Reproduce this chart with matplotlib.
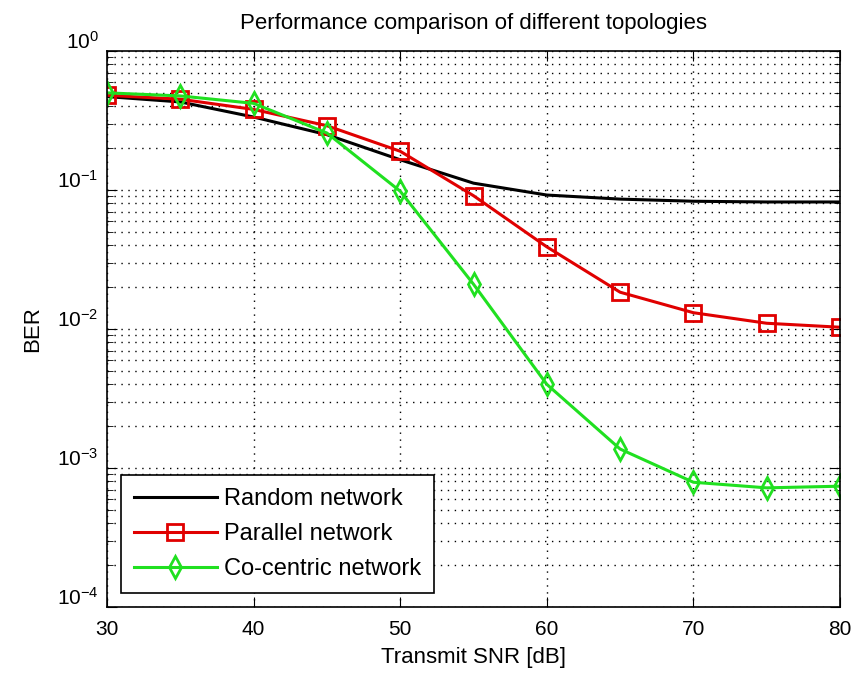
import matplotlib.pyplot as plt
import matplotlib.transforms as mtransforms
from matplotlib.ticker import LogLocator, NullFormatter

# Transmit SNR [dB]
snr = [30, 35, 40, 45, 50, 55, 60, 65, 70, 75, 80]

# BER
ber_random = [0.47, 0.43, 0.335, 0.25, 0.165, 0.112, 0.092, 0.086, 0.083, 0.082, 0.082]
ber_parallel = [0.48, 0.45, 0.38, 0.29, 0.19, 0.091, 0.039, 0.0184, 0.0131, 0.0110, 0.0103]
ber_cocentric = [0.50, 0.475, 0.42, 0.257, 0.098, 0.021, 0.0040, 0.00137, 0.00079, 0.00072, 0.00074]

plt.rcParams['font.family'] = ['Liberation Sans', 'DejaVu Sans']
plt.rcParams['axes.unicode_minus'] = False

fig = plt.figure(figsize=(8.54, 6.79), dpi=100)
ax = fig.add_axes([0.1253, 0.106, 0.8583, 0.8189])

ax.semilogy(snr, ber_random, color='black', lw=2.2, label='Random network')
ax.semilogy(snr, ber_parallel, color='#e00000', lw=2.2, marker='s', markersize=11,
            markerfacecolor='none', markeredgewidth=2, label='Parallel network')
ax.semilogy(snr, ber_cocentric, color='#20e020', lw=2.2, marker='d', markersize=11,
            markerfacecolor='none', markeredgewidth=2, label='Co-centric network')

ax.set_xlim(30, 80)
ax.set_ylim(1e-4, 1)
ax.set_xticks([30, 40, 50, 60, 70, 80])
ax.yaxis.set_major_locator(LogLocator(base=10, numticks=10))
ax.yaxis.set_minor_locator(LogLocator(base=10, subs=range(2, 10), numticks=50))
ax.yaxis.set_minor_formatter(NullFormatter())

ax.grid(True, which='major', linestyle=(0, (1, 4)), color='black', lw=1)
ax.grid(True, which='minor', axis='y', linestyle=(0, (1, 4)), color='black', lw=1)

ax.tick_params(which='both', direction='in', top=True, right=True, labelsize=15)
ax.tick_params(which='major', length=7)
ax.tick_params(which='minor', length=4)
ax.tick_params(axis='x', pad=9)
ax.tick_params(axis='y', pad=6)
for s in ax.spines.values():
    s.set_linewidth(1.2)

# MATLAB puts the "10" base near the tick, exponent above it
shift = mtransforms.ScaledTranslation(0, 8 / 72, fig.dpi_scale_trans)
for lab in ax.get_yticklabels():
    lab.set_transform(lab.get_transform() + shift)

ax.set_title('Performance comparison of different topologies', fontsize=16, pad=16)
ax.set_xlabel('Transmit SNR [dB]', fontsize=16, labelpad=6)
ax.set_ylabel('BER', fontsize=16, labelpad=10)

leg = ax.legend(loc='lower left', fontsize=17, fancybox=False, framealpha=1,
                edgecolor='black', handlelength=3.5, borderaxespad=0.6,
                borderpad=0.55, labelspacing=0.55, handletextpad=0.3)
leg.get_frame().set_linewidth(1.2)

fig.savefig('out.png', dpi=100)
